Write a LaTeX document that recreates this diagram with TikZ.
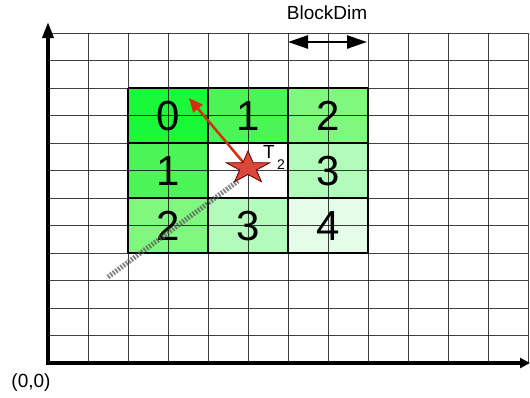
\documentclass[tikz,border=0pt]{standalone}
\usepackage{fontspec}
\setmainfont{Liberation Sans}
\usetikzlibrary{arrows.meta}
\definecolor{gA}{HTML}{1AF83A}
\definecolor{gB}{HTML}{4CF556}
\definecolor{gC}{HTML}{80F880}
\definecolor{gD}{HTML}{B3FBBB}
\definecolor{gE}{HTML}{E5FCE8}
\definecolor{redarrow}{HTML}{D42E12}
\definecolor{starred}{HTML}{D9483A}
\begin{document}
\begin{tikzpicture}[x=1pt,y=-1pt,
  gridline/.style={draw=black,opacity=0.75,line width=0.9pt},
  blockline/.style={draw=black,line width=1.2pt},
  num/.style={font=\fontsize{42}{42}\selectfont,inner sep=0pt},
  lbl/.style={font=\fontsize{19}{19}\selectfont,inner sep=0pt},
  axisline/.style={line width=3.5pt,line cap=butt},
  hatch/.style={draw=black!65,line width=5pt,dash pattern=on 1.8pt off 1.4pt,opacity=0.75},
  redarr/.style={draw=redarrow,line width=2.5pt,-{Triangle[length=14pt,width=12pt]}},
  starstyle/.style={fill=starred,draw=black!60!red,line width=0.8pt,line join=miter},
  dimarr/.style={line width=2.5pt,{Triangle[length=20pt,width=13pt]}-{Triangle[length=20pt,width=13pt]}}]
\useasboundingbox (0,0) rectangle (530,397);
% block fills
\fill[gA] (128,88) rectangle (208,143);
\fill[gB] (208,88) rectangle (288,143);
\fill[gC] (288,88) rectangle (368,143);
\fill[gB] (128,143) rectangle (208,198);
\fill[gD] (288,143) rectangle (368,198);
\fill[gC] (128,198) rectangle (208,253);
\fill[gD] (208,198) rectangle (288,253);
\fill[gE] (288,198) rectangle (368,253);
% grid
\foreach \i in {0,...,12} \draw[gridline] ({48+40*\i},33) -- ({48+40*\i},363);
\foreach \j in {0,...,12} \draw[gridline] (48,{33+27.5*\j}) -- (528,{33+27.5*\j});
% block borders
\foreach \x in {128,208,288,368} \draw[blockline] (\x,88) -- (\x,253);
\foreach \y in {88,143,198,253} \draw[blockline] (128,\y) -- (368,\y);
% numbers
\node[num] (b0) at (168,116) {0};
\node[num] (b1a) at (248,116) {1};
\node[num] (b2a) at (328,116) {2};
\node[num] (b1b) at (168,171) {1};
\node[num] (b3a) at (328,171) {3};
\node[num] (b2b) at (168,226) {2};
\node[num] (b3b) at (248,226) {3};
\node[num] (b4) at (328,226) {4};
% hatched path
\coordinate (hs) at (108,277);
\coordinate (he) at (238,181);
\draw[hatch] (hs) -- (he);
% red arrow and star
\coordinate (starc) at (248,168);
\coordinate (tip0) at (189,98);
\draw[redarr] (starc) -- (tip0);
\begin{scope}[shift={(starc)},xscale=1.35]
\draw[starstyle] (-90:17) -- (-54:6.5) -- (-18:17) -- (18:6.5) -- (54:17) -- (90:6.5) -- (126:17) -- (162:6.5) -- (198:17) -- (234:6.5) -- cycle;
\end{scope}
\node[lbl] (tlab) at (269,152) {T};
\node[font=\fontsize{14}{14}\selectfont,inner sep=0pt] (tsub) at (281,165) {2};
% axes
\coordinate (org) at (48,363);
\coordinate (ytop) at (48,22);
\coordinate (xend) at (530,363);
\draw[axisline,-{Triangle[length=16pt,width=11pt]}] (48,365) -- (ytop);
\draw[axisline,-{Triangle[length=10pt,width=10pt]}] (46.25,363) -- (xend);
% BlockDim
\coordinate (bdl) at (288,42);
\coordinate (bdr) at (367,42);
\draw[dimarr] (bdl) -- (bdr);
\node[lbl] (bdlab) at (327,13) {BlockDim};
\node[lbl] (origin) at (31,383) {(0,0)};
\end{tikzpicture}
\end{document}
